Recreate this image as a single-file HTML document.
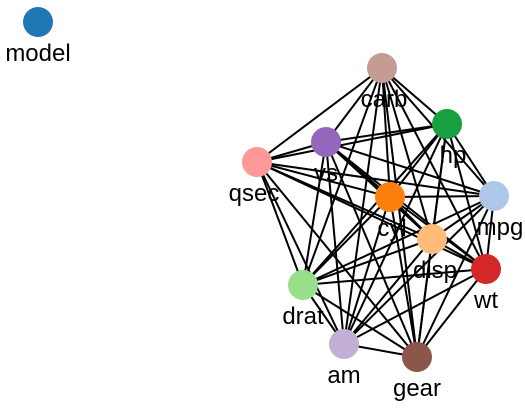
<!DOCTYPE html>
<html><head><meta charset="utf-8"><style>
body{margin:0;background:#fff}
svg{display:block}
text{font-family:"Liberation Sans",Arial,sans-serif;font-size:24px;fill:#000}
</style></head><body>
<svg id="chart" width="525" height="412" viewBox="0 0 525 412"></svg>
<script>
const nodeNames=["model","carb","hp","vs","qsec","cyl","mpg","disp","wt","drat","am","gear"];
const nodeColors=["#1f77b4","#c49c94","#17a040","#9467bd","#ff9896","#ff7f0e","#aec7e8","#ffbb78","#d62728","#98df8a","#c5b0d5","#8c564b"];
const nodeX=[38,382,447,326,257,390,494,432,486,303,344,417];
const nodeY=[22,68,124,142,162,197,196,239,269,285,344,357];
const labelDx=[0,2,6,0,-3,2,6,3,0,0,0,0];
const ns="http://www.w3.org/2000/svg";
const svg=document.getElementById('chart');
const edges=[];
for(let i=1;i<nodeNames.length;i++)for(let j=i+1;j<nodeNames.length;j++)edges.push([i,j]);
const g1=document.createElementNS(ns,'g');svg.appendChild(g1);
edges.forEach(([a,b])=>{
 const l=document.createElementNS(ns,'line');
 
 
 l.setAttribute('x1',nodeX[a]);l.setAttribute('y1',nodeY[a]);
 l.setAttribute('x2',nodeX[b]);l.setAttribute('y2',nodeY[b]);
 l.setAttribute('stroke','#000');l.setAttribute('stroke-width','2');
 g1.appendChild(l);
});
nodeNames.forEach((n,i)=>{
 const c=document.createElementNS(ns,'circle');
 
 
 c.setAttribute('cx',nodeX[i]);c.setAttribute('cy',nodeY[i]);c.setAttribute('r',15);
 c.setAttribute('fill',nodeColors[i]);
 svg.appendChild(c);
});
nodeNames.forEach((n,i)=>{
 const t=document.createElementNS(ns,'text');
 
 
 t.setAttribute('x',nodeX[i]+labelDx[i]);t.setAttribute('y',nodeY[i]+39);
 t.setAttribute('text-anchor','middle');
 t.textContent=n;
 svg.appendChild(t);
});
</script>
</body></html>
